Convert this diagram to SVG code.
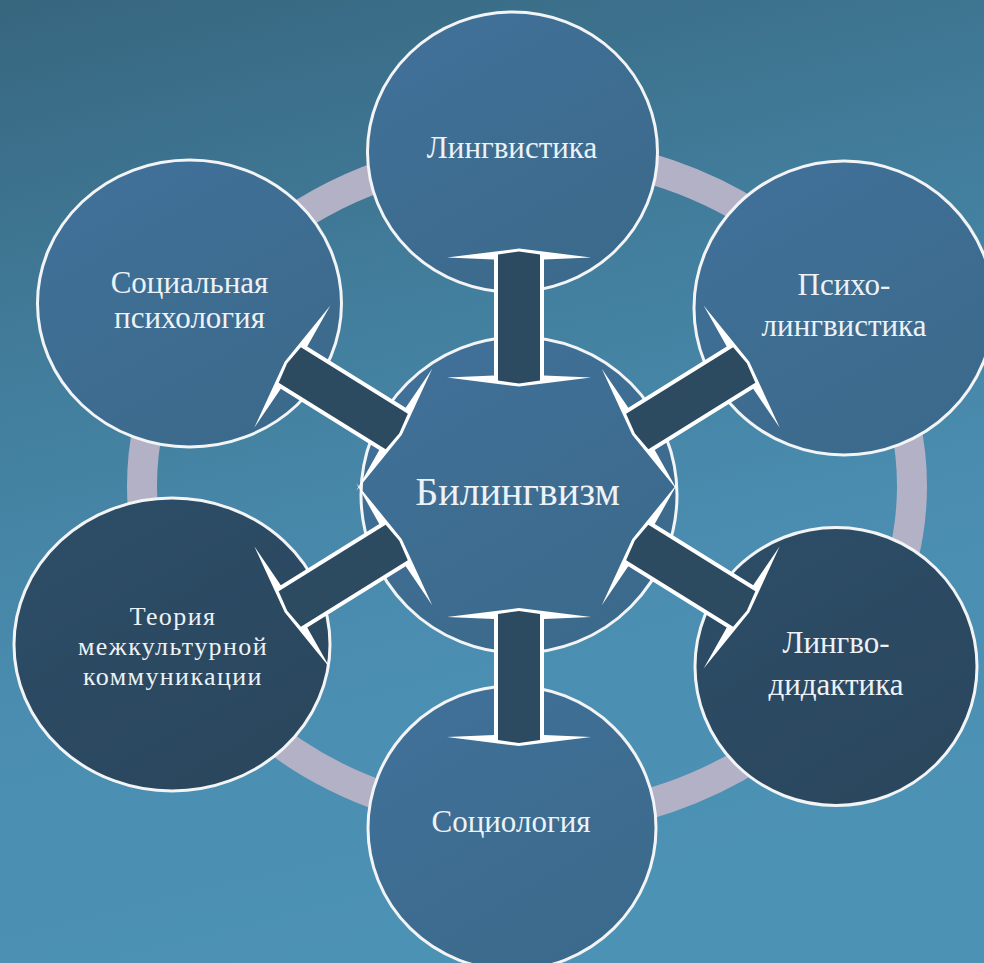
<svg xmlns="http://www.w3.org/2000/svg" xmlns:xlink="http://www.w3.org/1999/xlink" width="984" height="963" viewBox="0 0 984 963">
  <defs>
    <linearGradient id="bg" x1="0" y1="0" x2="0.25" y2="1">
      <stop offset="0" stop-color="#37667f"/>
      <stop offset="0.35" stop-color="#417c9a"/>
      <stop offset="0.7" stop-color="#4a8db0"/>
      <stop offset="1" stop-color="#4c92b5"/>
    </linearGradient>
    <linearGradient id="nodeFill" x1="0" y1="0" x2="0.6" y2="1">
      <stop offset="0" stop-color="#41719a"/>
      <stop offset="1" stop-color="#3c6a8c"/>
    </linearGradient>
    <linearGradient id="nodeDark" x1="0" y1="0" x2="0.6" y2="1">
      <stop offset="0" stop-color="#2d4d67"/>
      <stop offset="1" stop-color="#2a475e"/>
    </linearGradient>
    <g id="arrow">
      <polygon class="arr-w" points="-69,0 -60,-72 -58,-25 58,-25 60,-72 69,0 60,72 58,25 -58,25 -60,72"/>
      <polygon class="arr-d" points="-66,0 -63,-21 63,-21 66,0 63,21 -63,21"/>
    </g>
    <style>
      .node { fill: url(#nodeFill); stroke: #f2f4f6; stroke-width: 3; }
      .node-dark { fill: url(#nodeDark); stroke: #f2f4f6; stroke-width: 3; }
      .ring { fill: none; stroke: #b3b1c6; stroke-width: 30; }
      .arr-w { fill: #ffffff; }
      .arr-d { fill: #2c4a60; }
      .lbl { font-family: "Liberation Serif", "Times New Roman", serif; font-size: 31px; fill: #edf2f6; text-anchor: middle; }
      .lbl-s { font-size: 26px; letter-spacing: 1.4px; }
      .lbl-c { font-size: 40px; }
    </style>
  </defs>

  <rect x="0" y="0" width="984" height="963" fill="url(#bg)"/>

  <ellipse class="ring" cx="527" cy="486" rx="385" ry="335"/>

  <g id="node-center">
    <circle class="node" cx="519" cy="495" r="158"/>
  </g>

  <g id="node-lingvistika">
    <ellipse class="node" cx="512.5" cy="152" rx="145" ry="140"/>
    <text class="lbl" x="512" y="158">Лингвистика</text>
  </g>

  <g id="node-social-psychology">
    <ellipse class="node" cx="189.5" cy="303.5" rx="152" ry="143.5"/>
    <text class="lbl" x="189.5" y="293">Социальная</text>
    <text class="lbl" x="189.5" y="328">психология</text>
  </g>

  <g id="node-psycholinguistics">
    <ellipse class="node" cx="844" cy="308" rx="150" ry="147"/>
    <text class="lbl" x="844" y="295">Психо-</text>
    <text class="lbl" x="844" y="336">лингвистика</text>
  </g>

  <g id="node-intercultural">
    <ellipse class="node-dark" cx="172" cy="644.5" rx="158" ry="146.5"/>
    <text class="lbl lbl-s" x="173" y="625">Теория</text>
    <text class="lbl lbl-s" x="173" y="655">межкультурной</text>
    <text class="lbl lbl-s" x="173" y="685">коммуникации</text>
  </g>

  <g id="node-linguodidactics">
    <ellipse class="node-dark" cx="836" cy="666.5" rx="141" ry="139"/>
    <text class="lbl" x="836" y="653">Лингво-</text>
    <text class="lbl" x="836" y="694.5">дидактика</text>
  </g>

  <g id="node-sociology">
    <ellipse class="node" cx="512" cy="828" rx="144" ry="142"/>
    <text class="lbl" x="511" y="832">Социология</text>
  </g>

  <g id="connectors">
    <use xlink:href="#arrow" transform="translate(519,317.5) rotate(90)"/>
    <use xlink:href="#arrow" transform="translate(519,677) rotate(90)"/>
    <use xlink:href="#arrow" transform="translate(343.25,398.25) rotate(31.9)"/>
    <use xlink:href="#arrow" transform="translate(690.75,398.25) rotate(-31.9)"/>
    <use xlink:href="#arrow" transform="translate(343.25,575.75) rotate(-31.9)"/>
    <use xlink:href="#arrow" transform="translate(690.75,575.75) rotate(31.9)"/>
  </g>

  <g id="label-center">
    <text class="lbl lbl-c" x="517.5" y="505">Билингвизм</text>
  </g>
</svg>
